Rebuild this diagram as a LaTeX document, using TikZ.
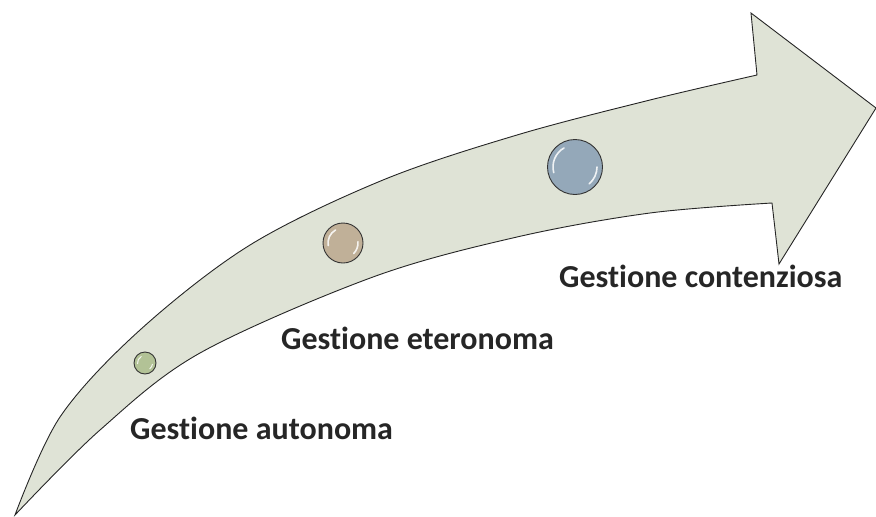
\documentclass[tikz,border=0pt]{standalone}
\usepackage{fontspec}
\setmainfont{Carlito}[Ligatures={NoCommon}]
\definecolor{arrowfill}{RGB}{223,227,214}
\definecolor{txt}{RGB}{38,38,38}
\definecolor{ballgreen}{RGB}{178,194,150}
\definecolor{ballbrown}{RGB}{192,176,152}
\definecolor{ballblue}{RGB}{148,168,185}
\tikzset{
  arrowshape/.style={fill=arrowfill, draw=black!85, line width=0.9pt, line join=miter},
  ball/.style={circle, draw=black!80, line width=0.9pt, inner sep=0pt},
  hl/.style={white, line width=1.6pt, line cap=round, opacity=0.85},
  lbl/.style={font=\bfseries\fontsize{32}{38}\selectfont, text=txt, inner sep=0pt}
}
\begin{document}
\begin{tikzpicture}[x=1pt,y=-1pt]
\useasboundingbox (0,0) rectangle (876,517);
\draw[arrowshape]
  plot[smooth, tension=0.55] coordinates {(15,515) (60,417) (140,330) (250,245) (383,180) (517,135) (650,100) (757,75)}
  -- (751,13) -- (876,108) -- (779,264) -- (772,203)
  -- plot[smooth, tension=0.55] coordinates {(772,203) (650,213) (517,237) (373,277) (200,353) (100,430) (15,515)}
  -- cycle;
\node[ball, minimum size=22pt, fill=ballgreen] (c1) at (145,363) {};
\node[ball, minimum size=40pt, fill=ballbrown] (c2) at (343,243) {};
\node[ball, minimum size=55pt, fill=ballblue] (c3) at (575,167) {};
\draw[hl, line width=1pt] (c1.center) ++(185:7.5pt) arc[start angle=185, end angle=120, radius=7.5pt];
\draw[hl, line width=1pt] (c1.center) ++(-10:7.5pt) arc[start angle=-10, end angle=-50, radius=7.5pt];
\draw[hl] (c2.center) ++(190:15pt) arc[start angle=190, end angle=120, radius=15pt];
\draw[hl] (c2.center) ++(5:15pt) arc[start angle=5, end angle=-45, radius=15pt];
\draw[hl] (c3.center) ++(195:22pt) arc[start angle=195, end angle=120, radius=22pt];
\draw[hl] (c3.center) ++(0:22pt) arc[start angle=0, end angle=-50, radius=22pt];
\node[lbl, anchor=base west] (t1) at (130,439) {Gestione autonoma};
\node[lbl, anchor=base west] (t2) at (281,349) {Gestione eteronoma};
\node[lbl, anchor=base west] (t3) at (559,287) {Gestione contenziosa};
\end{tikzpicture}
\end{document}
